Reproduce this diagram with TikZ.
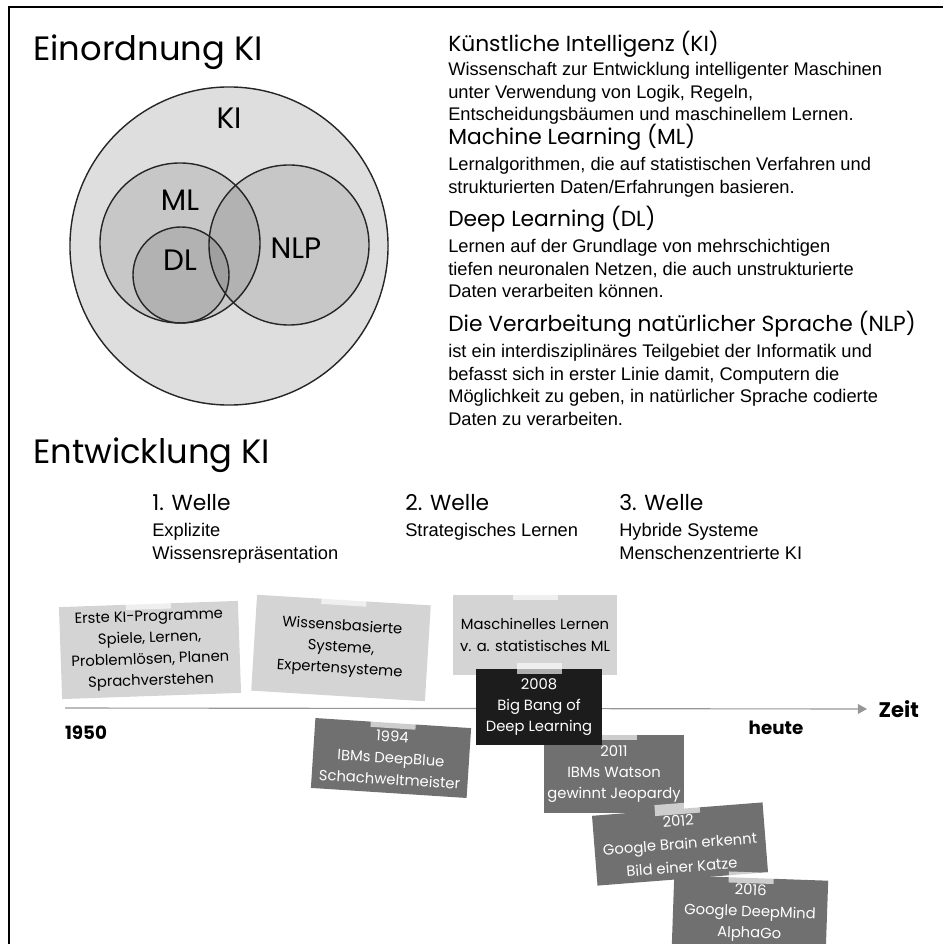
\documentclass[tikz,border=0pt]{standalone}
\usepackage{fontspec}
\setmainfont{Liberation Sans}
\newfontfamily\hand{Poppins}
\usetikzlibrary{arrows.meta,positioning}
\definecolor{kifill}{RGB}{222,222,222}
\definecolor{notelight}{RGB}{212,212,212}
\definecolor{notedark}{RGB}{112,112,112}
\definecolor{noteblack}{RGB}{28,28,28}
\definecolor{timegray}{RGB}{150,150,150}

\begin{document}
\begin{tikzpicture}[x=0.025cm, y=-0.025cm,
    note/.style={fill=notelight, align=center, inner sep=0pt, font=\hand\fontsize{10.5}{15.2}\selectfont},
    darknote/.style={note, fill=notedark, text=white},
    blacknote/.style={note, fill=noteblack, text=white},
    tape/.style={fill=white, fill opacity=0.65, minimum width=1.125cm, minimum height=0.275cm, inner sep=0pt},
    title/.style={font=\hand\fontsize{24}{28}\selectfont, anchor=west, inner sep=0pt},
    head/.style={font=\hand\fontsize{15.5}{18}\selectfont, anchor=west, inner sep=0pt},
    body/.style={font=\fontsize{13}{16.1}\selectfont, align=left, anchor=north west, inner sep=0pt},
    venn/.style={font=\hand\fontsize{21}{25}\selectfont},
    timelabel/.style={font=\hand\bfseries\fontsize{13}{16}\selectfont, inner sep=0pt}]

  \useasboundingbox (0,0) rectangle (943,944);
  \draw[line width=1.8pt] (9,944) -- (9,7) -- (943,7);

  \node[title] (einordnung) at (33,52) {Einordnung KI};
  \node[title] (entwicklung) at (33,455) {Entwicklung KI};

  \draw[fill=kifill, line width=1pt, draw=black!85] (229,246) circle [radius=3.975cm];
  \draw[fill=black, fill opacity=0.1, line width=1pt, draw=black!85] (180,243) circle [radius=2cm];
  \draw[fill=black, fill opacity=0.1, line width=1pt, draw=black!85] (289,245) circle [radius=2cm];
  \draw[fill=black, fill opacity=0.1, line width=1pt, draw=black!85] (181,275) circle [radius=1.2cm];
  \node[venn] (ki) at (229,118) {KI};
  \node[venn] (ml) at (180,200) {ML};
  \node[venn] (dl) at (180,260) {DL};
  \node[venn] (nlp) at (296,248) {NLP};

  \node[head] (kihead) at (448,44) {Künstliche Intelligenz (KI)};
  \node[body] (kitext) at (448,62) {Wissenschaft zur Entwicklung intelligenter Maschinen\\unter Verwendung von Logik, Regeln,\\Entscheidungsbäumen und maschinellem Lernen.};
  \node[head] (mlhead) at (448,137) {Machine Learning (ML)};
  \node[body] (mltext) at (448,157) {Lernalgorithmen, die auf statistischen Verfahren und\\strukturierten Daten/Erfahrungen basieren.};
  \node[head] (dlhead) at (448,219) {Deep Learning (DL)};
  \node[body] (dltext) at (448,239) {Lernen auf der Grundlage von mehrschichtigen\\tiefen neuronalen Netzen, die auch unstrukturierte\\Daten verarbeiten können.};
  \node[head] (nlphead) at (448,324) {Die Verarbeitung natürlicher Sprache (NLP)};
  \node[body] (nlptext) at (448,344) {ist ein interdisziplinäres Teilgebiet der Informatik und\\befasst sich in erster Linie damit, Computern die\\Möglichkeit zu geben, in natürlicher Sprache codierte\\Daten zu verarbeiten.};

  \node[head] (welle1) at (152,503) {1. Welle};
  \node[body] (welle1text) at (152,523) {Explizite\\Wissensrepräsentation};
  \node[head] (welle2) at (405,503) {2. Welle};
  \node[body] (welle2text) at (405,523) {Strategisches Lernen};
  \node[head] (welle3) at (619,503) {3. Welle};
  \node[body] (welle3text) at (619,523) {Hybride Systeme\\Menschenzentrierte KI};

  \coordinate (t0) at (65,708);
  \coordinate (t1) at (867,709);
  \draw[timegray, line width=0.8pt, -{Triangle[length=6.5pt,width=7pt]}] (t0) -- (t1);
  \node[timelabel, font=\hand\bfseries\fontsize{15}{18}\selectfont, right=8pt of t1] (zeit) {Zeit};
  \node[timelabel] (y1950) at (86,733) {1950};
  \node[timelabel] (heute) at (776,728) {heute};

  \node[note, rotate=2, minimum width=4.475cm, minimum height=2.3cm] (erste) at (150,650) {Erste KI-Programme\\Spiele, Lernen,\\Problemlösen, Planen\\Sprachverstehen};
  \node[tape, rotate=2] at (erste.north) {};
  \node[note, rotate=-3.5, minimum width=4.35cm, minimum height=2.4cm] (wissen) at (341,648) {Wissensbasierte\\Systeme,\\Expertensysteme};
  \node[tape, rotate=-3.5] at (wissen.north) {};
  \node[note, minimum width=4.075cm, minimum height=2cm] (maschinell) at (535,635) {Maschinelles Lernen\\v. a. statistisches ML};
  \node[tape] at (maschinell.north) {};

  \node[darknote, rotate=-3.7, minimum width=3.9cm, minimum height=1.75cm] (deepblue) at (391,758) {1994\\IBMs DeepBlue\\Schachweltmeister};
  \node[tape, rotate=-3.7] at (deepblue.north) {};
  \node[darknote, minimum width=3.5cm, minimum height=1.95cm] (watson) at (614,774) {2011\\IBMs Watson\\gewinnt Jeopardy};
  \node[tape] at (watson.north) {};
  \node[blacknote, minimum width=3.15cm, minimum height=1.9cm] (bigbang) at (539,707) {2008\\Big Bang of\\Deep Learning};
  \node[tape] at (bigbang.north) {};
  \node[darknote, rotate=4.5, minimum width=4.275cm, minimum height=1.75cm, font=\hand\fontsize{10.5}{16.5}\selectfont] (brain) at (680,844) {2012\\Google Brain erkennt\\Bild einer Katze};
  \node[tape, rotate=4.5] at (brain.north) {};
  \node[darknote, rotate=-2, minimum width=3.85cm, minimum height=1.75cm] (alphago) at (750,913) {2016\\Google DeepMind\\AlphaGo};
  \node[tape, rotate=-2] at (alphago.north) {};
\end{tikzpicture}
\end{document}
